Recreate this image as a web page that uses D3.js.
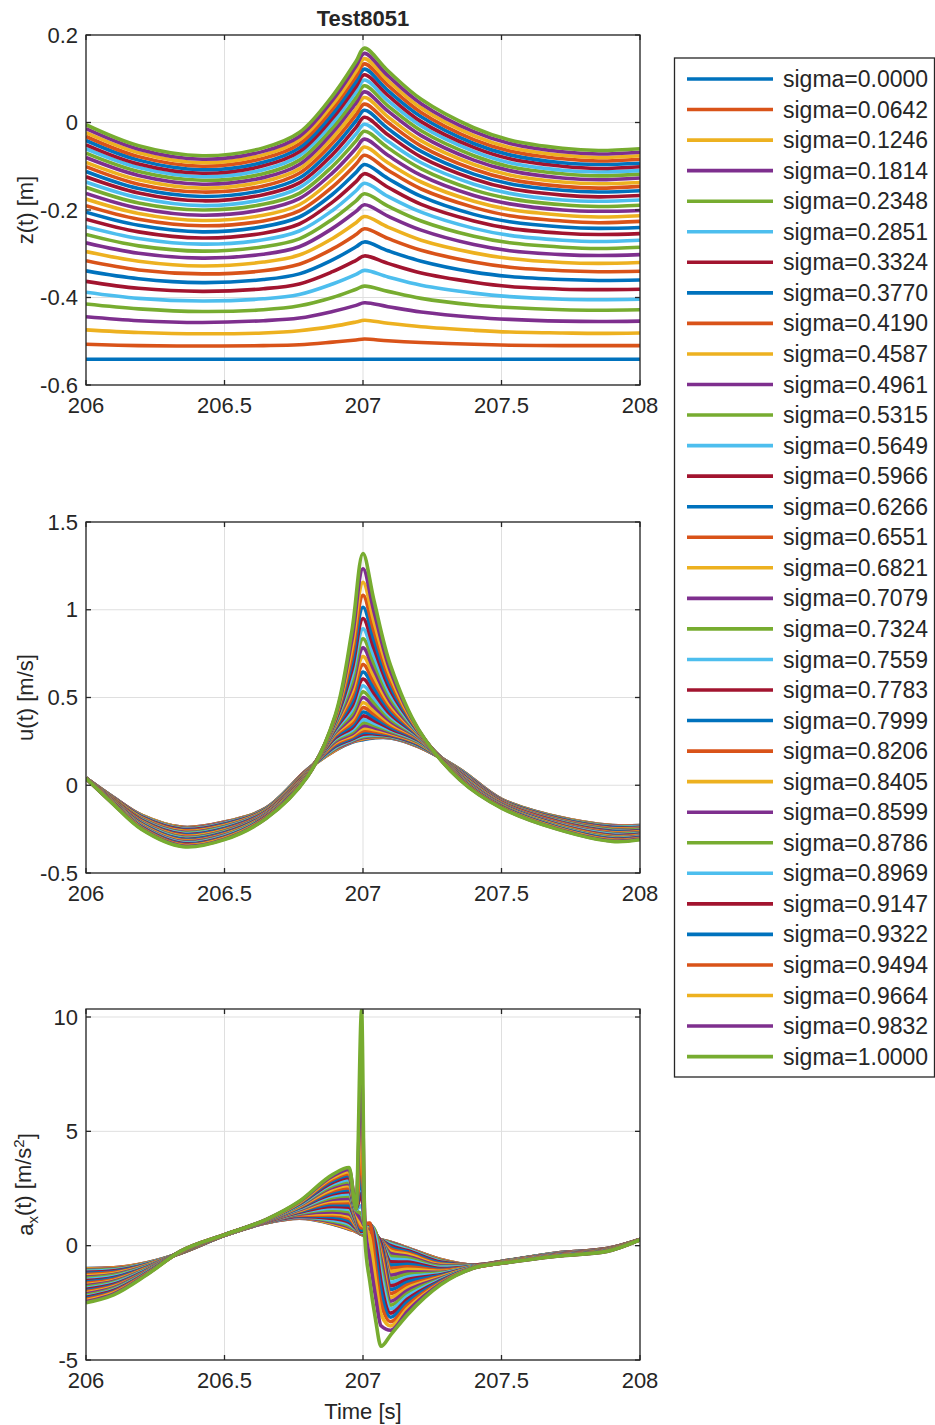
<!DOCTYPE html>
<html>
<head>
<meta charset="utf-8">
<script src="https://cdn.jsdelivr.net/npm/d3@7"></script>
<style>
body { margin: 0; background: #fff; }
text { font-family: "Liberation Sans", Arial, sans-serif; fill: #262626; }
</style>
</head>
<body>
<div id="chart"></div>
<script>
var sigmaLabels = ["sigma=0.0000", "sigma=0.0642", "sigma=0.1246", "sigma=0.1814", "sigma=0.2348", "sigma=0.2851",
    "sigma=0.3324", "sigma=0.3770", "sigma=0.4190", "sigma=0.4587", "sigma=0.4961", "sigma=0.5315", "sigma=0.5649",
    "sigma=0.5966", "sigma=0.6266", "sigma=0.6551", "sigma=0.6821", "sigma=0.7079", "sigma=0.7324", "sigma=0.7559",
    "sigma=0.7783", "sigma=0.7999", "sigma=0.8206", "sigma=0.8405", "sigma=0.8599", "sigma=0.8786", "sigma=0.8969",
    "sigma=0.9147", "sigma=0.9322", "sigma=0.9494", "sigma=0.9664", "sigma=0.9832", "sigma=1.0000"];

var xTicks = [206, 206.5, 207, 207.5, 208];
var zTicks = [-0.6, -0.4, -0.2, 0, 0.2];
var uTicks = [-0.5, 0, 0.5, 1, 1.5];
var aTicks = [-5, 0, 5, 10];

// z(t) [m]
var tZ = [206, 206.19, 206.42, 206.64, 206.77, 206.89, 206.975, 207.005, 207.09, 207.21, 207.4, 207.53, 207.72, 207.85, 208];
var zValues = [
    [-0.541, -0.541, -0.541, -0.541, -0.541, -0.541, -0.541, -0.541, -0.541, -0.541, -0.541, -0.541, -0.541, -0.541, -0.541],
    [-0.507, -0.510, -0.511, -0.510, -0.508, -0.502, -0.497, -0.495, -0.499, -0.503, -0.507, -0.509, -0.510, -0.510, -0.510],
    [-0.474, -0.480, -0.483, -0.481, -0.476, -0.466, -0.456, -0.452, -0.459, -0.467, -0.475, -0.479, -0.481, -0.482, -0.481],
    [-0.444, -0.453, -0.457, -0.453, -0.447, -0.432, -0.418, -0.412, -0.421, -0.433, -0.445, -0.450, -0.454, -0.455, -0.454],
    [-0.415, -0.426, -0.432, -0.428, -0.419, -0.400, -0.381, -0.374, -0.386, -0.402, -0.417, -0.423, -0.428, -0.429, -0.428],
    [-0.388, -0.402, -0.408, -0.403, -0.393, -0.369, -0.347, -0.338, -0.353, -0.372, -0.390, -0.398, -0.404, -0.405, -0.404],
    [-0.363, -0.379, -0.386, -0.380, -0.369, -0.341, -0.315, -0.305, -0.322, -0.344, -0.365, -0.375, -0.381, -0.382, -0.381],
    [-0.339, -0.357, -0.366, -0.359, -0.346, -0.314, -0.284, -0.273, -0.293, -0.317, -0.342, -0.352, -0.359, -0.361, -0.360],
    [-0.316, -0.337, -0.346, -0.339, -0.324, -0.289, -0.256, -0.243, -0.265, -0.292, -0.319, -0.331, -0.339, -0.341, -0.340],
    [-0.295, -0.317, -0.328, -0.319, -0.303, -0.265, -0.229, -0.215, -0.239, -0.269, -0.298, -0.311, -0.320, -0.322, -0.320],
    [-0.275, -0.299, -0.310, -0.301, -0.284, -0.242, -0.203, -0.188, -0.214, -0.246, -0.279, -0.293, -0.302, -0.304, -0.302],
    [-0.256, -0.282, -0.294, -0.284, -0.266, -0.221, -0.179, -0.163, -0.191, -0.225, -0.260, -0.275, -0.285, -0.288, -0.285],
    [-0.238, -0.265, -0.278, -0.268, -0.248, -0.201, -0.156, -0.139, -0.169, -0.205, -0.242, -0.258, -0.269, -0.272, -0.269],
    [-0.221, -0.250, -0.264, -0.253, -0.232, -0.182, -0.135, -0.117, -0.148, -0.187, -0.225, -0.242, -0.253, -0.256, -0.254],
    [-0.205, -0.235, -0.250, -0.238, -0.216, -0.164, -0.114, -0.096, -0.128, -0.169, -0.210, -0.227, -0.239, -0.242, -0.240],
    [-0.190, -0.221, -0.236, -0.225, -0.202, -0.147, -0.095, -0.075, -0.109, -0.152, -0.194, -0.213, -0.225, -0.229, -0.226],
    [-0.175, -0.208, -0.224, -0.212, -0.188, -0.130, -0.077, -0.056, -0.092, -0.136, -0.180, -0.199, -0.212, -0.216, -0.213],
    [-0.162, -0.196, -0.212, -0.199, -0.174, -0.115, -0.059, -0.038, -0.075, -0.121, -0.167, -0.186, -0.200, -0.203, -0.201],
    [-0.148, -0.184, -0.200, -0.187, -0.162, -0.100, -0.042, -0.020, -0.058, -0.106, -0.154, -0.174, -0.188, -0.192, -0.189],
    [-0.136, -0.172, -0.190, -0.176, -0.149, -0.086, -0.026, -0.004, -0.043, -0.092, -0.141, -0.162, -0.177, -0.180, -0.177],
    [-0.124, -0.161, -0.179, -0.165, -0.138, -0.073, -0.011, 0.012, -0.028, -0.079, -0.129, -0.151, -0.166, -0.170, -0.167],
    [-0.112, -0.151, -0.169, -0.155, -0.127, -0.060, 0.004, 0.028, -0.014, -0.066, -0.118, -0.140, -0.155, -0.159, -0.156],
    [-0.101, -0.141, -0.159, -0.145, -0.116, -0.047, 0.018, 0.042, 0.000, -0.054, -0.107, -0.130, -0.146, -0.150, -0.146],
    [-0.091, -0.131, -0.150, -0.135, -0.106, -0.035, 0.031, 0.057, 0.013, -0.042, -0.096, -0.120, -0.136, -0.140, -0.137],
    [-0.080, -0.121, -0.141, -0.126, -0.096, -0.023, 0.045, 0.070, 0.026, -0.030, -0.086, -0.110, -0.127, -0.131, -0.127],
    [-0.070, -0.112, -0.132, -0.117, -0.086, -0.012, 0.057, 0.084, 0.038, -0.019, -0.076, -0.101, -0.117, -0.122, -0.118],
    [-0.060, -0.103, -0.124, -0.108, -0.076, -0.001, 0.070, 0.097, 0.050, -0.008, -0.066, -0.092, -0.109, -0.113, -0.110],
    [-0.051, -0.095, -0.116, -0.099, -0.067, 0.010, 0.082, 0.109, 0.062, 0.002, -0.057, -0.083, -0.100, -0.105, -0.101],
    [-0.041, -0.086, -0.108, -0.091, -0.058, 0.020, 0.094, 0.122, 0.073, 0.013, -0.048, -0.074, -0.092, -0.096, -0.093],
    [-0.032, -0.078, -0.100, -0.082, -0.049, 0.031, 0.106, 0.134, 0.085, 0.023, -0.039, -0.065, -0.083, -0.088, -0.084],
    [-0.023, -0.069, -0.092, -0.074, -0.040, 0.041, 0.117, 0.146, 0.096, 0.033, -0.030, -0.057, -0.075, -0.080, -0.076],
    [-0.014, -0.061, -0.084, -0.066, -0.032, 0.051, 0.129, 0.158, 0.107, 0.043, -0.021, -0.048, -0.067, -0.072, -0.068],
    [-0.005, -0.053, -0.076, -0.058, -0.023, 0.061, 0.140, 0.170, 0.118, 0.053, -0.012, -0.040, -0.059, -0.064, -0.060]
];

// u(t) [m/s]
var tU = [206, 206.1, 206.2, 206.35, 206.5, 206.65, 206.8, 206.9, 206.96, 207.0, 207.04, 207.1, 207.2, 207.35, 207.5, 207.7, 207.9, 208];
var uValues = [
    [0.04, -0.070, -0.170, -0.240, -0.210, -0.130, 0.090, 0.200, 0.245, 0.260, 0.270, 0.270, 0.220, 0.090, -0.080, -0.180, -0.230, -0.230],
    [0.04, -0.070, -0.170, -0.240, -0.210, -0.130, 0.090, 0.200, 0.247, 0.263, 0.272, 0.271, 0.220, 0.090, -0.080, -0.180, -0.230, -0.230],
    [0.04, -0.071, -0.171, -0.242, -0.212, -0.131, 0.089, 0.203, 0.249, 0.266, 0.275, 0.272, 0.222, 0.089, -0.081, -0.181, -0.231, -0.231],
    [0.04, -0.071, -0.173, -0.244, -0.213, -0.132, 0.089, 0.207, 0.251, 0.271, 0.278, 0.274, 0.223, 0.088, -0.082, -0.182, -0.233, -0.233],
    [0.04, -0.072, -0.174, -0.246, -0.216, -0.133, 0.088, 0.211, 0.255, 0.276, 0.282, 0.276, 0.226, 0.087, -0.083, -0.184, -0.235, -0.234],
    [0.04, -0.073, -0.176, -0.249, -0.218, -0.135, 0.087, 0.216, 0.258, 0.282, 0.286, 0.279, 0.228, 0.085, -0.084, -0.186, -0.237, -0.236],
    [0.04, -0.074, -0.179, -0.252, -0.221, -0.137, 0.086, 0.222, 0.263, 0.291, 0.293, 0.282, 0.231, 0.083, -0.086, -0.188, -0.240, -0.239],
    [0.04, -0.076, -0.181, -0.256, -0.224, -0.139, 0.084, 0.228, 0.269, 0.300, 0.300, 0.286, 0.234, 0.081, -0.087, -0.190, -0.243, -0.241],
    [0.04, -0.077, -0.184, -0.259, -0.228, -0.141, 0.083, 0.235, 0.275, 0.311, 0.307, 0.290, 0.238, 0.079, -0.089, -0.192, -0.246, -0.244],
    [0.04, -0.078, -0.187, -0.263, -0.231, -0.143, 0.082, 0.242, 0.283, 0.324, 0.317, 0.295, 0.241, 0.077, -0.091, -0.195, -0.249, -0.247],
    [0.04, -0.080, -0.190, -0.267, -0.235, -0.145, 0.080, 0.249, 0.292, 0.338, 0.328, 0.300, 0.245, 0.075, -0.092, -0.197, -0.252, -0.250],
    [0.04, -0.081, -0.193, -0.271, -0.238, -0.147, 0.079, 0.257, 0.302, 0.355, 0.340, 0.307, 0.248, 0.073, -0.094, -0.200, -0.255, -0.253],
    [0.04, -0.083, -0.196, -0.275, -0.242, -0.149, 0.077, 0.264, 0.313, 0.373, 0.353, 0.314, 0.252, 0.071, -0.096, -0.202, -0.259, -0.256],
    [0.04, -0.084, -0.198, -0.279, -0.246, -0.151, 0.076, 0.271, 0.326, 0.395, 0.369, 0.322, 0.256, 0.069, -0.098, -0.205, -0.262, -0.258],
    [0.04, -0.086, -0.201, -0.283, -0.249, -0.154, 0.074, 0.279, 0.339, 0.417, 0.385, 0.331, 0.259, 0.066, -0.100, -0.208, -0.265, -0.261],
    [0.04, -0.087, -0.204, -0.287, -0.253, -0.156, 0.073, 0.286, 0.354, 0.442, 0.404, 0.341, 0.263, 0.064, -0.101, -0.210, -0.269, -0.264],
    [0.04, -0.089, -0.207, -0.291, -0.257, -0.158, 0.071, 0.293, 0.371, 0.470, 0.424, 0.351, 0.267, 0.062, -0.103, -0.213, -0.272, -0.267],
    [0.04, -0.090, -0.210, -0.295, -0.260, -0.160, 0.070, 0.300, 0.389, 0.500, 0.446, 0.363, 0.270, 0.060, -0.105, -0.215, -0.275, -0.270],
    [0.04, -0.091, -0.213, -0.299, -0.264, -0.162, 0.069, 0.307, 0.408, 0.532, 0.470, 0.375, 0.274, 0.058, -0.107, -0.218, -0.278, -0.273],
    [0.04, -0.093, -0.216, -0.303, -0.267, -0.164, 0.067, 0.314, 0.429, 0.567, 0.496, 0.389, 0.277, 0.056, -0.109, -0.220, -0.281, -0.276],
    [0.04, -0.094, -0.218, -0.307, -0.271, -0.166, 0.066, 0.321, 0.451, 0.605, 0.524, 0.403, 0.281, 0.054, -0.110, -0.222, -0.285, -0.278],
    [0.04, -0.096, -0.221, -0.310, -0.274, -0.168, 0.064, 0.328, 0.475, 0.645, 0.553, 0.419, 0.284, 0.052, -0.112, -0.225, -0.288, -0.281],
    [0.04, -0.097, -0.224, -0.314, -0.277, -0.170, 0.063, 0.335, 0.502, 0.688, 0.585, 0.436, 0.287, 0.050, -0.114, -0.227, -0.291, -0.284],
    [0.04, -0.098, -0.226, -0.318, -0.281, -0.172, 0.062, 0.341, 0.529, 0.734, 0.619, 0.453, 0.291, 0.048, -0.115, -0.229, -0.294, -0.286],
    [0.04, -0.100, -0.229, -0.321, -0.284, -0.174, 0.060, 0.348, 0.558, 0.783, 0.655, 0.472, 0.294, 0.046, -0.117, -0.232, -0.297, -0.289],
    [0.04, -0.101, -0.232, -0.325, -0.287, -0.176, 0.059, 0.354, 0.589, 0.835, 0.693, 0.492, 0.297, 0.044, -0.119, -0.234, -0.299, -0.292],
    [0.04, -0.102, -0.234, -0.328, -0.290, -0.178, 0.058, 0.361, 0.623, 0.891, 0.734, 0.514, 0.300, 0.042, -0.120, -0.236, -0.302, -0.294],
    [0.04, -0.103, -0.237, -0.332, -0.294, -0.180, 0.057, 0.367, 0.658, 0.950, 0.778, 0.537, 0.304, 0.040, -0.122, -0.239, -0.305, -0.297],
    [0.04, -0.105, -0.240, -0.336, -0.297, -0.182, 0.055, 0.374, 0.696, 1.014, 0.825, 0.562, 0.307, 0.038, -0.123, -0.241, -0.308, -0.300],
    [0.04, -0.106, -0.242, -0.339, -0.300, -0.184, 0.054, 0.380, 0.737, 1.082, 0.875, 0.588, 0.310, 0.036, -0.125, -0.243, -0.311, -0.302],
    [0.04, -0.107, -0.245, -0.343, -0.303, -0.186, 0.053, 0.387, 0.782, 1.156, 0.929, 0.616, 0.313, 0.034, -0.127, -0.245, -0.314, -0.305],
    [0.04, -0.109, -0.247, -0.346, -0.307, -0.188, 0.051, 0.393, 0.829, 1.234, 0.987, 0.647, 0.317, 0.032, -0.128, -0.248, -0.317, -0.307],
    [0.04, -0.110, -0.250, -0.350, -0.310, -0.190, 0.050, 0.400, 0.880, 1.320, 1.050, 0.680, 0.320, 0.030, -0.130, -0.250, -0.320, -0.310]
];

// a_x(t) [m/s^2]
var tA = [206, 206.1, 206.22, 206.34, 206.5, 206.65, 206.77, 206.89, 206.95, 206.975, 206.995, 207.007, 207.025,
    207.045, 207.065, 207.1, 207.16, 207.28, 207.4, 207.52, 207.7, 207.88, 208];
var aValues = [
    [-1.0, -0.97, -0.75, -0.33, 0.45, 1.0, 1.2, 0.95, 0.72, 0.62, 0.5, 0.42, 0.36, 0.3, 0.25, 0.15, -0.1, -0.6, -0.85, -0.65, -0.32, -0.13, 0.27],
    [-1.01, -0.97, -0.75, -0.33, 0.45, 1.0, 1.2, 0.96, 0.73, 0.62, 0.5, 0.42, 0.36, 0.3, 0.25, 0.15, -0.1, -0.6, -0.85, -0.65, -0.32, -0.13, 0.27],
    [-1.02, -0.99, -0.76, -0.33, 0.45, 1.0, 1.21, 0.98, 0.76, 0.64, 0.5, 0.43, 0.37, 0.31, 0.25, 0.14, -0.11, -0.62, -0.85, -0.65, -0.32, -0.13, 0.27],
    [-1.05, -1.01, -0.77, -0.33, 0.45, 1.0, 1.22, 1.02, 0.81, 0.66, 0.5, 0.44, 0.38, 0.31, 0.25, 0.13, -0.12, -0.64, -0.85, -0.65, -0.32, -0.13, 0.27],
    [-1.08, -1.03, -0.78, -0.33, 0.45, 1.01, 1.24, 1.07, 0.87, 0.69, 0.5, 0.45, 0.4, 0.32, 0.25, 0.1, -0.14, -0.66, -0.86, -0.65, -0.33, -0.14, 0.27],
    [-1.12, -1.07, -0.79, -0.32, 0.45, 1.01, 1.26, 1.12, 0.94, 0.72, 0.5, 0.47, 0.42, 0.33, 0.24, 0.06, -0.17, -0.69, -0.86, -0.66, -0.33, -0.14, 0.27],
    [-1.17, -1.1, -0.81, -0.32, 0.45, 1.02, 1.28, 1.19, 1.02, 0.75, 0.5, 0.49, 0.44, 0.34, 0.24, 0.0, -0.21, -0.72, -0.86, -0.66, -0.34, -0.14, 0.27],
    [-1.21, -1.14, -0.82, -0.32, 0.45, 1.02, 1.31, 1.26, 1.1, 0.79, 0.5, 0.51, 0.46, 0.36, 0.23, -0.07, -0.26, -0.76, -0.87, -0.66, -0.34, -0.15, 0.27],
    [-1.26, -1.18, -0.84, -0.32, 0.46, 1.02, 1.33, 1.33, 1.2, 0.83, 0.5, 0.53, 0.48, 0.37, 0.23, -0.15, -0.32, -0.8, -0.87, -0.67, -0.34, -0.15, 0.27],
    [-1.32, -1.22, -0.86, -0.31, 0.46, 1.03, 1.36, 1.4, 1.29, 0.87, 0.5, 0.55, 0.51, 0.38, 0.22, -0.24, -0.38, -0.83, -0.88, -0.67, -0.35, -0.16, 0.27],
    [-1.37, -1.26, -0.88, -0.31, 0.46, 1.03, 1.38, 1.48, 1.38, 0.92, 0.5, 0.57, 0.53, 0.4, 0.21, -0.34, -0.46, -0.87, -0.88, -0.67, -0.35, -0.16, 0.27],
    [-1.42, -1.3, -0.9, -0.31, 0.46, 1.04, 1.41, 1.56, 1.48, 0.96, 0.5, 0.59, 0.56, 0.41, 0.2, -0.46, -0.54, -0.91, -0.89, -0.68, -0.36, -0.16, 0.27],
    [-1.48, -1.35, -0.92, -0.3, 0.46, 1.04, 1.44, 1.64, 1.58, 1.0, 0.5, 0.61, 0.58, 0.43, 0.2, -0.58, -0.63, -0.95, -0.89, -0.68, -0.36, -0.17, 0.27],
    [-1.53, -1.39, -0.94, -0.3, 0.46, 1.05, 1.46, 1.72, 1.68, 1.05, 0.5, 0.63, 0.61, 0.44, 0.19, -0.71, -0.72, -1.0, -0.9, -0.68, -0.37, -0.17, 0.27],
    [-1.59, -1.43, -0.95, -0.3, 0.46, 1.06, 1.49, 1.8, 1.78, 1.09, 0.51, 0.66, 0.64, 0.46, 0.18, -0.85, -0.82, -1.04, -0.9, -0.69, -0.38, -0.18, 0.27],
    [-1.64, -1.48, -0.97, -0.3, 0.46, 1.06, 1.52, 1.88, 1.88, 1.13, 0.51, 0.68, 0.66, 0.47, 0.17, -0.99, -0.92, -1.08, -0.91, -0.69, -0.38, -0.18, 0.27],
    [-1.7, -1.52, -0.99, -0.29, 0.46, 1.07, 1.54, 1.95, 1.98, 1.18, 0.52, 0.7, 0.69, 0.49, 0.15, -1.13, -1.03, -1.12, -0.91, -0.69, -0.39, -0.19, 0.27],
    [-1.75, -1.56, -1.01, -0.29, 0.47, 1.07, 1.57, 2.03, 2.07, 1.22, 0.53, 0.72, 0.71, 0.5, 0.14, -1.29, -1.14, -1.16, -0.92, -0.7, -0.39, -0.19, 0.27],
    [-1.8, -1.6, -1.03, -0.29, 0.47, 1.08, 1.6, 2.11, 2.17, 1.26, 0.55, 0.74, 0.74, 0.51, 0.13, -1.44, -1.25, -1.19, -0.92, -0.7, -0.4, -0.19, 0.27],
    [-1.86, -1.64, -1.05, -0.28, 0.47, 1.08, 1.62, 2.18, 2.26, 1.31, 0.58, 0.76, 0.76, 0.53, 0.12, -1.6, -1.37, -1.23, -0.92, -0.7, -0.4, -0.2, 0.27],
    [-1.91, -1.69, -1.07, -0.28, 0.47, 1.08, 1.65, 2.26, 2.36, 1.35, 0.62, 0.78, 0.78, 0.54, 0.11, -1.76, -1.48, -1.27, -0.93, -0.7, -0.4, -0.2, 0.27],
    [-1.96, -1.73, -1.08, -0.28, 0.47, 1.09, 1.67, 2.33, 2.45, 1.39, 0.68, 0.8, 0.81, 0.56, -0.05, -1.92, -1.6, -1.31, -0.93, -0.71, -0.41, -0.21, 0.27],
    [-2.01, -1.76, -1.1, -0.28, 0.47, 1.09, 1.7, 2.4, 2.54, 1.43, 0.78, 0.82, 0.83, 0.57, -0.2, -2.09, -1.72, -1.35, -0.94, -0.71, -0.41, -0.21, 0.27],
    [-2.06, -1.8, -1.12, -0.27, 0.47, 1.1, 1.72, 2.47, 2.63, 1.47, 0.9, 0.84, 0.85, 0.58, -0.4, -2.26, -1.84, -1.38, -0.94, -0.71, -0.42, -0.21, 0.27],
    [-2.11, -1.84, -1.13, -0.27, 0.47, 1.1, 1.75, 2.55, 2.72, 1.51, 1.1, 0.86, 0.88, 0.6, -0.6, -2.43, -1.96, -1.42, -0.95, -0.72, -0.42, -0.22, 0.27],
    [-2.16, -1.88, -1.15, -0.27, 0.47, 1.11, 1.77, 2.62, 2.8, 1.55, 1.37, 0.88, 0.9, 0.61, -0.9, -2.6, -2.09, -1.46, -0.95, -0.72, -0.43, -0.22, 0.27],
    [-2.21, -1.92, -1.17, -0.27, 0.47, 1.11, 1.79, 2.69, 2.89, 1.58, 1.75, 0.9, 0.92, 0.4, -1.2, -2.77, -2.21, -1.49, -0.95, -0.72, -0.43, -0.23, 0.27],
    [-2.26, -1.96, -1.19, -0.26, 0.48, 1.12, 1.82, 2.76, 2.98, 1.62, 2.29, 0.92, 0.95, 0.1, -1.6, -2.95, -2.34, -1.53, -0.96, -0.73, -0.44, -0.23, 0.27],
    [-2.3, -2.0, -1.2, -0.26, 0.48, 1.12, 1.84, 2.83, 3.07, 1.66, 3.04, 0.94, 0.97, -0.4, -2.0, -3.13, -2.47, -1.56, -0.96, -0.73, -0.44, -0.23, 0.27],
    [-2.35, -2.03, -1.22, -0.26, 0.48, 1.13, 1.87, 2.9, 3.15, 1.7, 4.09, 0.96, 0.99, -0.9, -2.5, -3.32, -2.61, -1.6, -0.97, -0.73, -0.45, -0.24, 0.27],
    [-2.4, -2.07, -1.24, -0.26, 0.48, 1.13, 1.89, 2.97, 3.24, 1.74, 5.53, 0.98, 0.3, -1.5, -3.0, -3.51, -2.75, -1.64, -0.97, -0.73, -0.45, -0.24, 0.27],
    [-2.45, -2.11, -1.25, -0.25, 0.48, 1.14, 1.92, 3.04, 3.33, 1.78, 7.54, 1.0, -0.6, -2.2, -3.5, -3.7, -2.88, -1.67, -0.98, -0.74, -0.46, -0.25, 0.27],
    [-2.5, -2.15, -1.27, -0.25, 0.48, 1.14, 1.94, 3.11, 3.42, 1.6, 10.3, 0.3, -1.6, -3.2, -4.4, -3.9, -3.03, -1.71, -0.98, -0.74, -0.46, -0.25, 0.26]
];

var COLORS = ["#0072BD", "#D95319", "#EDB120", "#7E2F8E", "#77AC30", "#4DBEEE", "#A2142F"];
var W = 935, H = 1425;
var FONT = 22;

var svg = d3.select("#chart").append("svg")
    .attr("width", W)
    .attr("height", H);

var x = d3.scaleLinear().domain([206, 208]).range([86, 640]);

function drawPanel(id, top, bottom, yDomain, yTicks, times, values, curve, labelFn) {
    var y = d3.scaleLinear().domain(yDomain).range([bottom, top]);
    var g = svg.append("g");

    // grid
    g.selectAll(".gx").data(xTicks).enter().append("line")
        .attr("x1", function(d) { return x(d); }).attr("x2", function(d) { return x(d); })
        .attr("y1", top).attr("y2", bottom)
        .attr("stroke", "#dfdfdf").attr("stroke-width", 1);
    g.selectAll(".gy").data(yTicks).enter().append("line")
        .attr("x1", 86).attr("x2", 640)
        .attr("y1", function(d) { return y(d); }).attr("y2", function(d) { return y(d); })
        .attr("stroke", "#dfdfdf").attr("stroke-width", 1);

    svg.append("clipPath").attr("id", "clip" + id)
        .append("rect").attr("x", 86).attr("y", top).attr("width", 554).attr("height", bottom - top);

    var line = d3.line()
        .x(function(d, i) { return x(times[i]); })
        .y(function(d) { return y(d); })
        .curve(curve);

    g.append("g").attr("clip-path", "url(#clip" + id + ")")
        .selectAll("path").data(values).enter().append("path")
        .attr("fill", "none")
        .attr("stroke", function(d, i) { return COLORS[i % 7]; })
        .attr("stroke-width", 3.6)
        .attr("stroke-linejoin", "round")
        .attr("d", line);

    // box + inward ticks on all sides
    g.append("rect").attr("x", 86).attr("y", top).attr("width", 554).attr("height", bottom - top)
        .attr("fill", "none").attr("stroke", "#262626").attr("stroke-width", 1.3);
    xTicks.forEach(function(t) {
        g.append("line").attr("x1", x(t)).attr("x2", x(t)).attr("y1", bottom).attr("y2", bottom - 5)
            .attr("stroke", "#262626").attr("stroke-width", 1.3);
        g.append("line").attr("x1", x(t)).attr("x2", x(t)).attr("y1", top).attr("y2", top + 5)
            .attr("stroke", "#262626").attr("stroke-width", 1.3);
        g.append("text").attr("x", x(t)).attr("y", bottom + 28)
            .attr("text-anchor", "middle").style("font-size", FONT + "px").text(String(t));
    });
    yTicks.forEach(function(v) {
        g.append("line").attr("x1", 86).attr("x2", 91).attr("y1", y(v)).attr("y2", y(v))
            .attr("stroke", "#262626").attr("stroke-width", 1.3);
        g.append("line").attr("x1", 640).attr("x2", 635).attr("y1", y(v)).attr("y2", y(v))
            .attr("stroke", "#262626").attr("stroke-width", 1.3);
        g.append("text").attr("x", 78).attr("y", y(v)).attr("dy", "0.35em")
            .attr("text-anchor", "end").style("font-size", FONT + "px").text(String(v));
    });

    var lab = g.append("text")
        .attr("transform", "translate(33," + ((top + bottom) / 2) + ") rotate(-90)")
        .attr("text-anchor", "middle")
        .style("font-size", FONT + "px");
    labelFn(lab);
}

var smooth = d3.curveCatmullRom.alpha(0.5);
drawPanel("z", 35, 385, [-0.6, 0.2], zTicks, tZ, zValues, smooth, function(t) { t.text("z(t) [m]"); });
drawPanel("u", 522, 873, [-0.5, 1.5], uTicks, tU, uValues, smooth, function(t) { t.text("u(t) [m/s]"); });
drawPanel("a", 1009, 1360, [-5, 10.35], aTicks, tA, aValues, d3.curveMonotoneX, function(t) {
    t.append("tspan").text("a");
    t.append("tspan").attr("dy", "0.3em").style("font-size", "15px").text("x");
    t.append("tspan").attr("dy", "-0.3em").text("(t) [m/s");
    t.append("tspan").attr("dy", "-0.45em").style("font-size", "15px").text("2");
    t.append("tspan").attr("dy", "0.45em").text("]");
});

svg.append("text").attr("x", 363).attr("y", 26).attr("text-anchor", "middle")
    .style("font-size", "22px").style("font-weight", "bold").text("Test8051");
svg.append("text").attr("x", 363).attr("y", 1419).attr("text-anchor", "middle")
    .style("font-size", FONT + "px").text("Time [s]");

// legend
var legend = svg.append("g");
legend.append("rect").attr("x", 674.5).attr("y", 58).attr("width", 260).attr("height", 1019)
    .attr("fill", "#fff").attr("stroke", "#262626").attr("stroke-width", 1.3);
var entry = legend.selectAll(".entry").data(sigmaLabels).enter().append("g")
    .attr("transform", function(d, i) { return "translate(0," + (79 + i * 30.55) + ")"; });
entry.append("line").attr("x1", 687).attr("x2", 773).attr("y1", 0).attr("y2", 0)
    .attr("stroke", function(d, i) { return COLORS[i % 7]; }).attr("stroke-width", 3.6);
entry.append("text").attr("x", 783).attr("y", 0).attr("dy", "0.35em")
    .style("font-size", "23px").text(function(d) { return d; });
</script>
</body>
</html>
